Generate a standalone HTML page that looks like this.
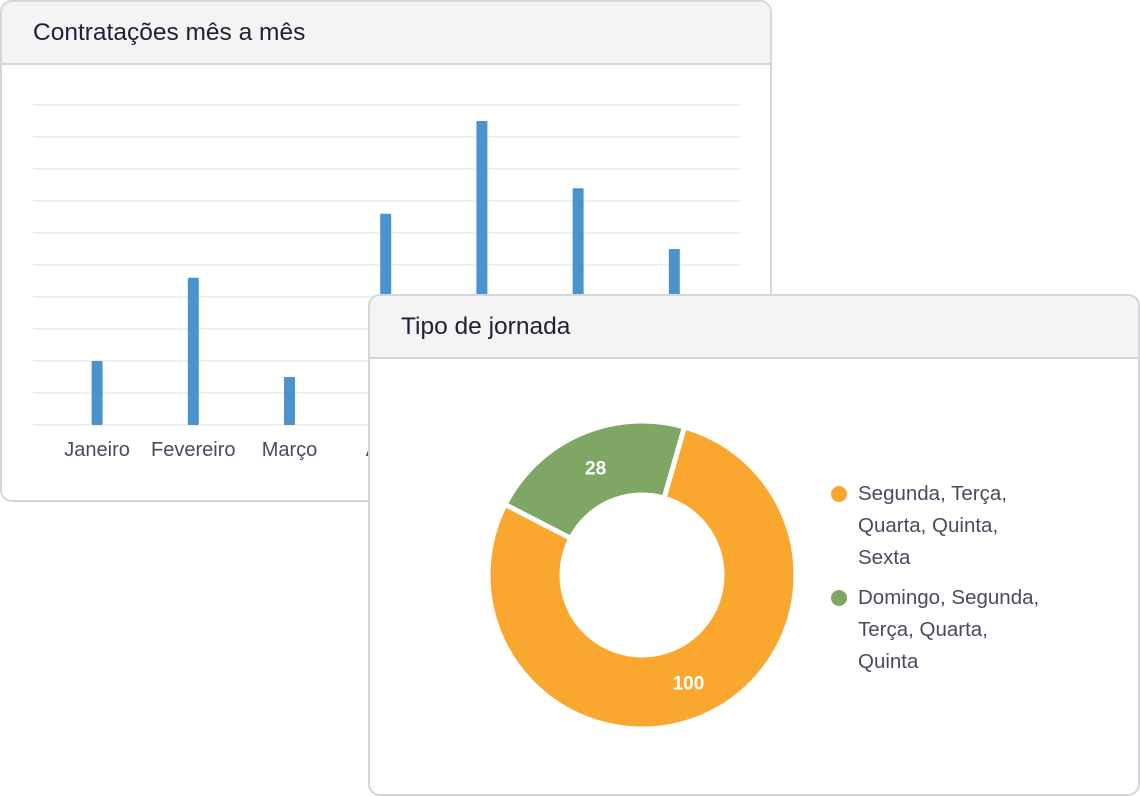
<!DOCTYPE html>
<html><head><meta charset="utf-8"><style>
body{margin:0;width:1140px;height:796px;background:#fff;font-family:"Liberation Sans",sans-serif;position:relative;overflow:hidden}
.card{position:absolute;background:#fff;border:2px solid #d6d6da;border-radius:12px;box-sizing:border-box;overflow:hidden}
.hdr{height:63px;background:#f4f4f5;border-bottom:2px solid #d6d6da;box-sizing:border-box;font-size:24.5px;color:#1f2033;padding-left:31px;line-height:62px}
svg{position:absolute;left:-2px;top:-2px}
.leg{position:absolute;left:488px;font-size:20.5px;color:#4a4a5e;line-height:32px;width:240px}
.dot{position:absolute;left:-27px;top:8px;width:16px;height:16px;border-radius:50%}
</style></head><body>
<div class="card" style="left:0;top:0;width:772px;height:502px">
<div class="hdr">Contratações mês a mês</div>
<svg id="bars" width="772" height="502"></svg>
</div>
<div class="card" style="left:368px;top:294px;width:772px;height:502px">
<div class="hdr">Tipo de jornada</div>
<svg id="donut" width="772" height="502"></svg>
<div class="leg" style="top:182px"><div class="dot" style="background:#f9a72f"></div>Segunda, Terça,<br>Quarta, Quinta,<br>Sexta</div>
<div class="leg" style="top:286px"><div class="dot" style="background:#7ea766"></div>Domingo, Segunda,<br>Terça, Quarta,<br>Quinta</div>
</div>
<script>
const months=["Janeiro","Fevereiro","Março","Abril","Maio","Junho","Julho"];
const hires=[4,9.2,3,13.2,19,14.8,11];
const yMax=20;
const gridCount=10;
const sliceLabels=["Segunda, Terça, Quarta, Quinta, Sexta","Domingo, Segunda, Terça, Quarta, Quinta"];
const sliceValues=[100,28];
const sliceColors=["#f9a72f","#7ea766"];
const NS="http://www.w3.org/2000/svg";
function mk(t,a,p){const e=document.createElementNS(NS,t);for(const k in a)e.setAttribute(k,a[k]);p.appendChild(e);return e;}
const b=document.getElementById('bars');
const y0=425,y1=105,xL=33,xR=740,bx0=49,step=96.2;
const ys=v=>y0-(v/yMax)*(y0-y1);
for(let i=0;i<=gridCount;i++){const y=ys(yMax*i/gridCount);const l=mk('line',{x1:xL,x2:xR,y1:y,y2:y,stroke:'#efeff1','stroke-width':2},b);

}
hires.forEach((v,i)=>{const cx=bx0+step*(i+0.5);
const r=mk('rect',{x:cx-5.5,y:ys(v),width:11,height:y0-ys(v),fill:'#4a93cc',rx:1},b);


const t=mk('text',{x:cx,y:456,'text-anchor':'middle','font-size':20,fill:'#4a4a5e'},b);t.textContent=months[i];

});
const d=document.getElementById('donut');
const cx=274,cy=281,R=154,r0=80;
const total=sliceValues.reduce((a,c)=>a+c,0);
let a=16;
function pt(rad,deg){const t=(deg-90)*Math.PI/180;return [cx+rad*Math.cos(t),cy+rad*Math.sin(t)];}
sliceValues.forEach((v,i)=>{const sweep=v/total*360;const a1=a+sweep;const lg=sweep>180?1:0;
const p1=pt(R,a),p2=pt(R,a1),p3=pt(r0,a1),p4=pt(r0,a);
const p=mk('path',{d:`M${p1}A${R},${R} 0 ${lg} 1 ${p2}L${p3}A${r0},${r0} 0 ${lg} 0 ${p4}Z`,fill:sliceColors[i],stroke:'#fff','stroke-width':5,'stroke-linejoin':'miter'},d);


const m=pt((R+r0)/2,a+sweep/2);
const t=mk('text',{x:m[0],y:m[1]+7,'text-anchor':'middle','font-size':19,'font-weight':'bold',fill:'#fff'},d);t.textContent=v;


a=a1;});
</script>
</body></html>
